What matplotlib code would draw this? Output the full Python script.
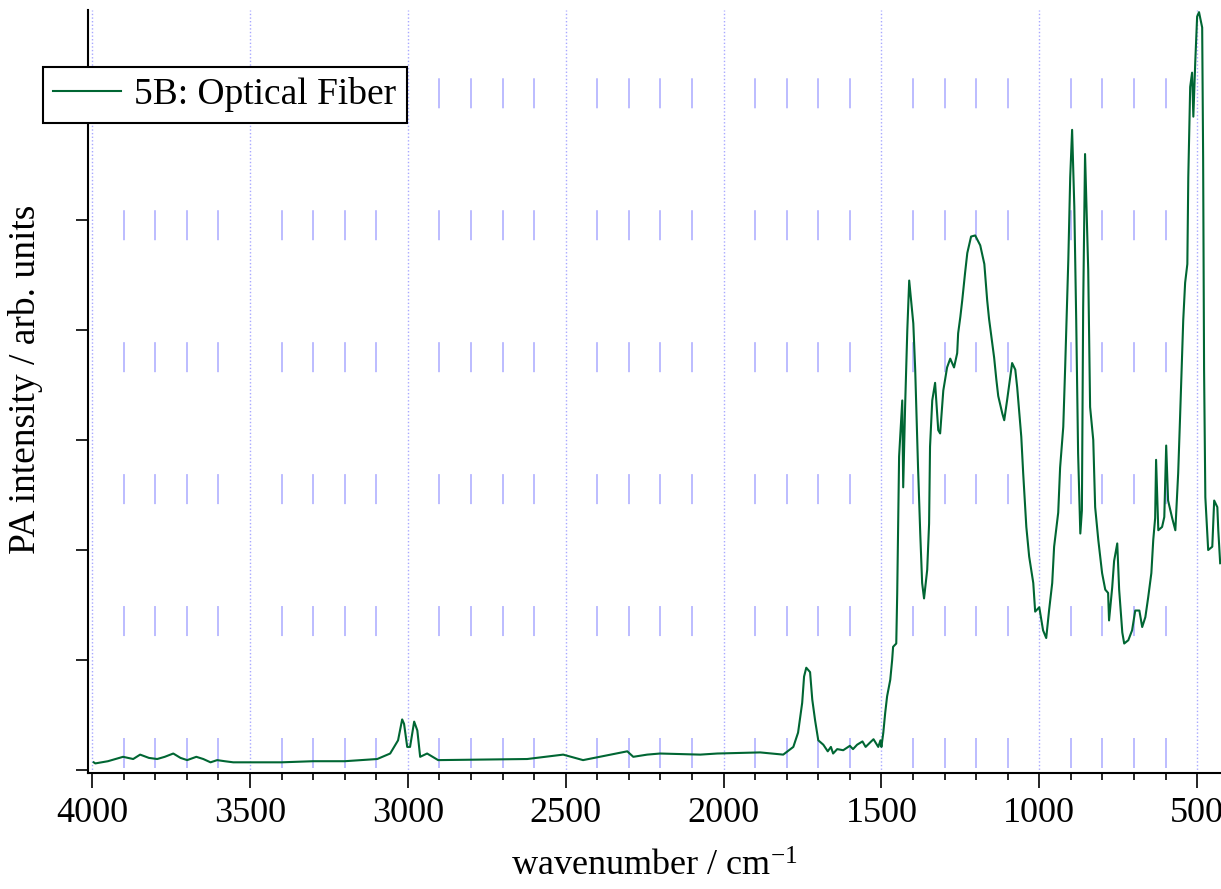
import matplotlib
matplotlib.use("Agg")
import matplotlib.pyplot as plt
from matplotlib.ticker import MultipleLocator, NullFormatter

# spectrum (wavenumber in cm^-1, PA intensity in tick units)
wavenumber = [3995, 3990, 3950, 3902, 3870, 3848, 3820, 3794, 3770, 3743,
              3720, 3699, 3670, 3648, 3625, 3604, 3580, 3553, 3400, 3300,
              3200, 3097, 3056, 3031, 3018, 3012, 3002, 2993, 2980, 2970,
              2961, 2939, 2904, 2622, 2508, 2445, 2305, 2286, 2242, 2201,
              2074, 2020, 1884, 1811, 1779, 1764, 1751, 1745, 1738, 1726,
              1719, 1710, 1700, 1684, 1670, 1660, 1653, 1640, 1621, 1600,
              1590, 1577, 1560, 1550, 1536, 1525, 1510, 1503, 1500, 1494,
              1488, 1482, 1472, 1466, 1463, 1453, 1450, 1444, 1434, 1431,
              1425, 1418, 1412, 1399, 1393, 1384, 1377, 1371, 1365, 1355,
              1349, 1346, 1339, 1330, 1320, 1314, 1304, 1292, 1282, 1270,
              1260, 1257, 1250, 1244, 1235, 1228, 1216, 1203, 1187, 1174,
              1165, 1159, 1149, 1143, 1136, 1130, 1117, 1111, 1102, 1086,
              1076, 1070, 1057, 1051, 1041, 1032, 1019, 1013, 1000, 988,
              978, 969, 959, 953, 940, 934, 924, 918, 908, 902,
              896, 889, 883, 877, 870, 865, 861, 855, 845, 839,
              829, 823, 813, 801, 791, 782, 779, 769, 763, 753,
              747, 737, 731, 718, 706, 696, 683, 674, 664, 655,
              645, 639, 633, 630, 623, 611, 604, 598, 592, 579,
              569, 560, 554, 544, 538, 531, 528, 522, 516, 512,
              506, 500, 494, 484, 481, 478, 474, 465, 452, 446,
              436, 433, 427]
intensity = [0.07, 0.06, 0.08, 0.12, 0.10, 0.14, 0.11, 0.10, 0.12, 0.15,
             0.11, 0.09, 0.12, 0.10, 0.07, 0.09, 0.08, 0.07, 0.07, 0.08,
             0.08, 0.10, 0.15, 0.27, 0.46, 0.42, 0.21, 0.21, 0.44, 0.36,
             0.12, 0.15, 0.09, 0.10, 0.14, 0.09, 0.17, 0.12, 0.14, 0.15,
             0.14, 0.15, 0.16, 0.14, 0.21, 0.34, 0.61, 0.85, 0.93, 0.89,
             0.64, 0.45, 0.27, 0.23, 0.17, 0.21, 0.15, 0.19, 0.18, 0.22,
             0.19, 0.23, 0.26, 0.21, 0.25, 0.28, 0.21, 0.27, 0.21, 0.34,
             0.52, 0.67, 0.82, 1.00, 1.12, 1.15, 1.60, 2.85, 3.36, 2.57,
             3.30, 4.00, 4.45, 4.06, 3.64, 2.75, 2.15, 1.70, 1.56, 1.82,
             2.24, 2.94, 3.36, 3.52, 3.09, 3.06, 3.45, 3.66, 3.74, 3.66,
             3.79, 3.97, 4.12, 4.27, 4.52, 4.70, 4.85, 4.86, 4.77, 4.60,
             4.27, 4.10, 3.88, 3.75, 3.55, 3.40, 3.24, 3.18, 3.36, 3.70,
             3.64, 3.48, 3.03, 2.70, 2.21, 1.94, 1.70, 1.44, 1.48, 1.27,
             1.20, 1.45, 1.70, 2.03, 2.34, 2.75, 3.12, 3.66, 4.64, 5.39,
             5.82, 5.12, 4.09, 2.88, 2.15, 2.36, 4.20, 5.60, 4.55, 3.30,
             3.00, 2.39, 2.09, 1.79, 1.64, 1.61, 1.36, 1.66, 1.90, 2.06,
             1.64, 1.25, 1.15, 1.18, 1.27, 1.45, 1.45, 1.30, 1.39, 1.57,
             1.79, 2.09, 2.29, 2.82, 2.18, 2.21, 2.30, 2.95, 2.45, 2.29,
             2.18, 2.70, 3.21, 4.09, 4.43, 4.60, 5.39, 6.21, 6.34, 5.94,
             6.43, 6.85, 6.89, 6.75, 5.57, 3.64, 2.48, 2.00, 2.03, 2.45,
             2.39, 2.18, 1.88]
series_label = "5B: Optical Fiber"

plt.rcParams['font.family'] = ['Liberation Serif', 'DejaVu Serif']
plt.rcParams['mathtext.fontset'] = 'custom'
plt.rcParams['mathtext.rm'] = 'Liberation Serif'
plt.rcParams['mathtext.it'] = 'Liberation Serif:italic'
plt.rcParams['lines.scale_dashes'] = False

fig = plt.figure(figsize=(12.21, 8.89), dpi=100)
ax = fig.add_axes([0.0721, 0.1305, 0.928, 0.8583])

ax.plot(wavenumber, intensity, color='#006633', linewidth=1.5, label=series_label, zorder=3)

ax.set_xlim(4013, 424)
ax.set_ylim(-0.027, 6.91)

ax.xaxis.set_major_locator(MultipleLocator(500))
ax.xaxis.set_minor_locator(MultipleLocator(100))
ax.yaxis.set_major_locator(MultipleLocator(1))
ax.yaxis.set_major_formatter(NullFormatter())

ax.grid(which='major', axis='x', color='#a8a8ff', linestyle=(0, (1.0, 1.6)), linewidth=1.0)
ax.grid(which='minor', axis='x', color='#b0b0ff', linestyle=(91.4, (21.6, 73.4)), linewidth=1.2)

for side in ['top', 'right']:
    ax.spines[side].set_visible(False)
for side in ['left', 'bottom']:
    ax.spines[side].set_linewidth(1.5)

ax.tick_params(axis='x', which='major', direction='out', length=11, width=1.2, labelsize=26, pad=6)
ax.tick_params(axis='x', which='minor', direction='out', length=5, width=1.2)
ax.tick_params(axis='y', which='major', direction='out', length=9, width=1.2)

ax.set_xlabel("wavenumber / cm$^{-1}$", fontsize=26)
ax.xaxis.set_label_coords(0.5, -0.102)
ax.set_ylabel("PA intensity / arb. units", fontsize=27)
ax.yaxis.set_label_coords(-0.0395, 0.516)

leg = ax.legend(loc='upper left', bbox_to_anchor=(0.035, 0.925), bbox_transform=fig.transFigure,
                fontsize=27, frameon=True, fancybox=False, framealpha=1, borderaxespad=0,
                borderpad=0.28, handlelength=1.8, handletextpad=0.36)
leg.get_frame().set_edgecolor('black')
leg.get_frame().set_linewidth(1.5)

fig.savefig("out.png", dpi=100)
